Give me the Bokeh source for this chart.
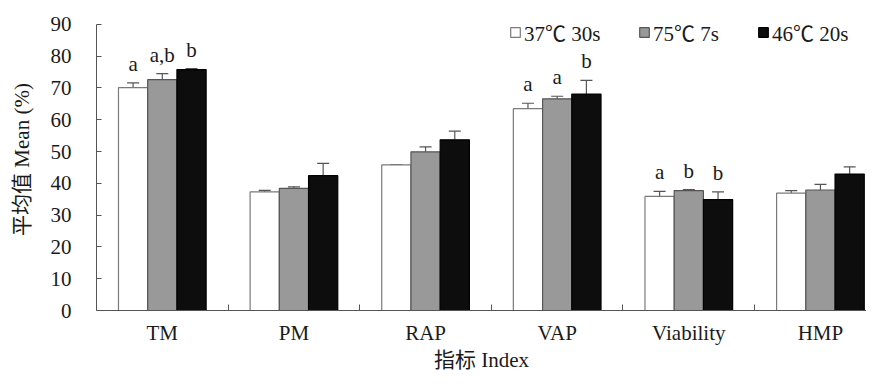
from bokeh.plotting import figure
from bokeh.models import ColumnDataSource, FixedTicker, Whisker, TeeHead, Legend, LegendItem, Range1d
from bokeh.embed import file_html
from bokeh.resources import INLINE

categories = ["TM", "PM", "RAP", "VAP", "Viability", "HMP"]
series_names = ["37℃ 30s", "75℃ 7s", "46℃ 20s"]
mean_37 = [70.1, 37.3, 45.8, 63.5, 35.9, 36.9]
err_37 = [1.5, 0.5, 0.0, 1.7, 1.6, 0.8]
mean_75 = [72.6, 38.4, 49.9, 66.6, 37.7, 37.9]
err_75 = [1.9, 0.5, 1.6, 0.8, 0.3, 1.8]
mean_46 = [75.8, 42.4, 53.7, 68.1, 34.9, 42.9]
err_46 = [0.3, 3.9, 2.7, 4.3, 2.4, 2.3]
letters_37 = ["a", "", "", "a", "a", ""]
letters_75 = ["a,b", "", "", "a", "b", ""]
letters_46 = ["b", "", "", "b", "b", ""]
y_ticks = [0, 10, 20, 30, 40, 50, 60, 70, 80, 90]

SERIF = "'Liberation Serif', 'Noto Sans CJK SC'"
TXT = "#1a1a1a"
FS = "21px"

p = figure(width=866, height=374, output_backend="svg", toolbar_location=None,
           x_range=Range1d(0, 5.85), y_range=Range1d(0, 95.0),
           min_border_left=96, min_border_right=0, min_border_top=8, min_border_bottom=64)
p.outline_line_color = None
p.grid.grid_line_color = None
p.background_fill_color = "white"
p.border_fill_color = "white"

centers = [i + 0.5 for i in range(len(categories))]
bounds = [float(i) for i in range(1, len(categories))]

bw = 0.222
offsets = [-0.222, 0.0, 0.222]
fills = ["#ffffff", "#999999", "#0d0d0d"]
lines = ["#7a7a7a", "#555555", "#000000"]
means = [mean_37, mean_75, mean_46]
errs = [err_37, err_75, err_46]
letters = [letters_37, letters_75, letters_46]
legend_x = [413, 542, 661]

for k in range(3):
    xs = [c + offsets[k] for c in centers]
    tops = [m + e for m, e in zip(means[k], errs[k])]
    src = ColumnDataSource(dict(x=xs, top=means[k], up=tops, lab=letters[k]))
    r = p.vbar(x="x", top="top", bottom=0, width=bw, source=src,
               fill_color=fills[k], line_color=lines[k], line_width=1.2)
    w = Whisker(base="x", lower="top", upper="up", source=src, dimension="height",
                line_color="#555555", line_width=1.2,
                upper_head=TeeHead(size=12, line_color="#555555", line_width=1.2),
                lower_head=None)
    p.add_layout(w)
    p.text(x="x", y="up", text="lab", source=src, text_align="center",
           text_baseline="bottom", y_offset=-7, text_font=dict(value="Liberation Serif"),
           text_font_size=FS, text_color=TXT)
    lg = Legend(items=[LegendItem(label=series_names[k], renderers=[r])],
                orientation="horizontal", location=(legend_x[k], 263),
                glyph_width=12, glyph_height=12, label_standoff=3,
                padding=0, margin=0, border_line_color=None, background_fill_alpha=0,
                label_text_font=SERIF, label_text_font_size=FS,
                label_text_color=TXT)
    p.add_layout(lg, "center")

xa = p.xaxis[0]
xa.ticker = FixedTicker(ticks=centers, minor_ticks=bounds)
xa.major_label_overrides = {c: n for c, n in zip(centers, categories)}
xa.major_tick_in = 0
xa.major_tick_out = 0
xa.minor_tick_in = 6
xa.minor_tick_out = 0
xa.minor_tick_line_color = "#555555"
xa.axis_line_color = "#555555"
xa.major_label_standoff = 10
xa.major_label_text_font = "Liberation Serif"
xa.major_label_text_font_size = FS
xa.major_label_text_color = TXT
xa.axis_label = "指标 Index"
xa.axis_label_text_font = SERIF
xa.axis_label_text_font_size = FS
xa.axis_label_text_font_style = "normal"
xa.axis_label_text_color = TXT
xa.axis_label_standoff = 0

ya = p.yaxis[0]
ya.ticker = FixedTicker(ticks=y_ticks)
ya.bounds = (0, 90)
ya.major_tick_in = 5
ya.major_tick_out = 0
ya.minor_tick_line_color = None
ya.axis_line_color = "#555555"
ya.major_tick_line_color = "#555555"
ya.major_label_standoff = 25
ya.major_label_text_font = "Liberation Serif"
ya.major_label_text_font_size = FS
ya.major_label_text_color = TXT
ya.axis_label = "平均值 Mean (%)"
ya.axis_label_text_font = SERIF
ya.axis_label_text_font_size = FS
ya.axis_label_text_font_style = "normal"
ya.axis_label_text_color = TXT
ya.axis_label_standoff = 14

open("out.html", "w").write(file_html(p, INLINE))
